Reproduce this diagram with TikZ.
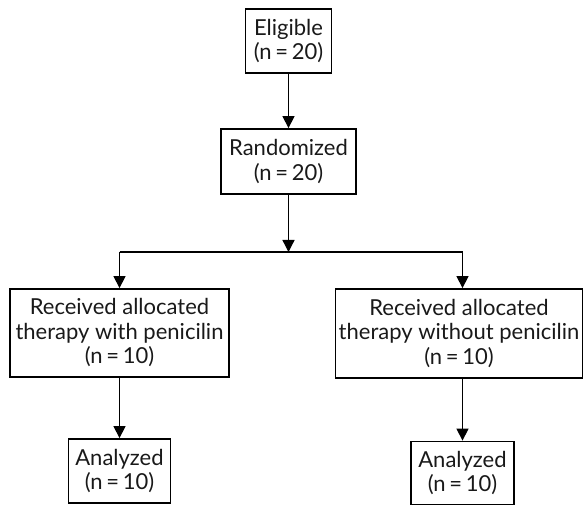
\documentclass[tikz,border=0pt]{standalone}
\usepackage{fontspec}
\setmainfont{Lato}
\usetikzlibrary{arrows.meta}
\begin{document}
\begin{tikzpicture}[x=1pt,y=-1pt,
  box/.style={draw=black,line width=1.8pt,align=center,inner sep=0pt,
    font=\fontsize{22}{24.5}\selectfont,text=black!90},
  conn/.style={line width=1.3pt,-{Triangle[width=12pt,length=12pt]}},
  plain/.style={line width=1.3pt}]
\useasboundingbox (0,0) rectangle (584,505);
\node[box,minimum width=86pt,minimum height=64pt] (elig) at (288.5,41) {Eligible\\(n\,=\,20)};
\node[box,minimum width=135pt,minimum height=65pt] (rand) at (288.5,161.5) {Randomized\\(n\,=\,20)};
\coordinate (junc) at (288.5,252);
\coordinate (jl) at (119.5,252);
\coordinate (jr) at (462.5,252);
\node[box,minimum width=219pt,minimum height=88pt] (left) at (119.5,333) {Received allocated\\therapy with penicilin\\(n\,=\,10)};
\node[box,minimum width=247pt,minimum height=89pt] (right) at (459,333.5) {Received allocated\\therapy without penicilin\\(n\,=\,10)};
\node[box,minimum width=102pt,minimum height=64pt] (anl) at (119.5,471) {Analyzed\\(n\,=\,10)};
\node[box,minimum width=103pt,minimum height=63pt] (anr) at (462.5,473) {Analyzed\\(n\,=\,10)};
\draw[conn] (elig.south) -- (rand.north);
\draw[conn] (rand.south) -- (junc);
\draw[plain] (jl) -- (jr);
\draw[conn] (jl) -- (jl |- left.north);
\draw[conn] (jr) -- (jr |- right.north);
\draw[conn] (left.south -| anl.north) -- (anl.north);
\draw[conn] (right.south -| anr.north) -- (anr.north);
\end{tikzpicture}
\end{document}
